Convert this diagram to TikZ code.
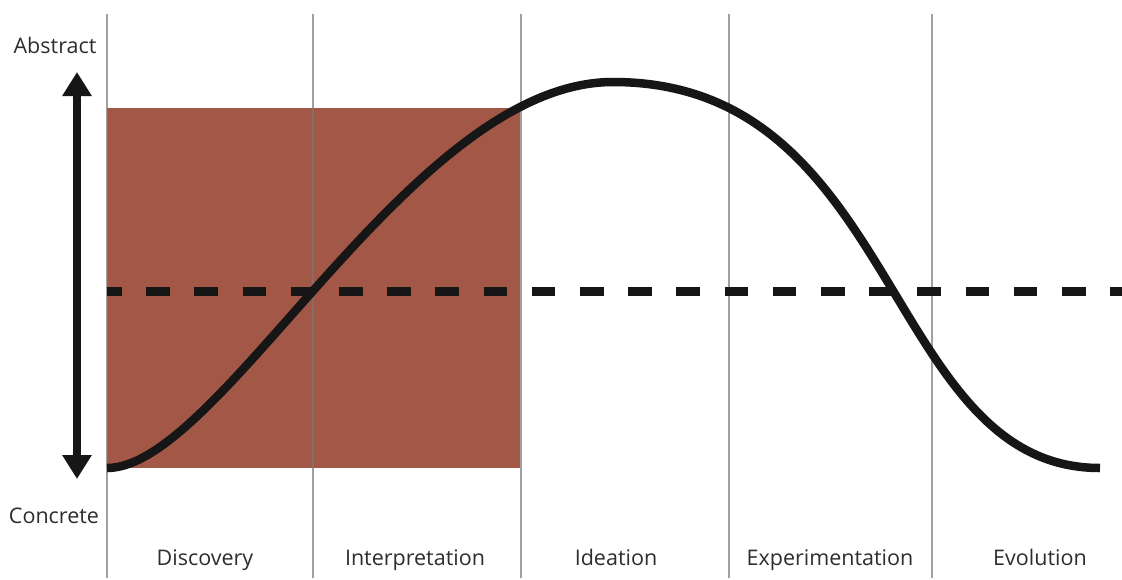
\documentclass[tikz,border=0pt]{standalone}
\usepackage{fontspec}
\setmainfont{Open Sans}
\usetikzlibrary{arrows.meta}
\definecolor{clay}{RGB}{163,88,71}
\definecolor{ink}{RGB}{22,22,22}
\definecolor{txt}{RGB}{45,45,45}
\definecolor{rule}{RGB}{120,120,120}
\begin{document}
\begin{tikzpicture}[x=1pt,y=-1pt,
  divider/.style={draw=rule,draw opacity=0.7,line width=1.5pt},
  phase/.style={font=\fontsize{21.5}{24}\selectfont,text=txt,anchor=base,inner sep=0pt},
  axislabel/.style={font=\fontsize{21.5}{24}\selectfont,text=txt,anchor=base,inner sep=0pt},
  wave/.style={draw=ink,line width=8.5pt,line cap=butt},
  midline/.style={draw=ink,line width=9pt,dash pattern=on 23.5pt off 24.7pt,dash phase=9pt},
  scale arrow/.style={draw=ink,line width=7.5pt,
    {Triangle[width=28pt,length=24pt]}-{Triangle[width=28pt,length=24pt]}}]
\useasboundingbox (0,0) rectangle (1122,579);
\fill[white] (0,0) rectangle (1122,579);

% shaded region over the first two phases
\fill[clay] (107,108) rectangle (520,468);

% phase dividers
\foreach \x/\n in {107/d0,313/d1,521/d2,729/d3,932/d4}{
  \coordinate (\n top) at (\x,14);
  \coordinate (\n bot) at (\x,578);
  \draw[divider] (\n top) -- (\n bot);
}

% neutral level
\coordinate (mid start) at (107,291);
\coordinate (mid end) at (1122,291);
\draw[midline] (mid start) -- (mid end);

% abstraction curve
\coordinate (low left) at (107,468);
\coordinate (peak) at (613,82);
\coordinate (low right) at (1100,468);
\draw[wave] (low left) .. controls (221.5,468) and (411,82) .. (peak)
  .. controls (901,82) and (884,468) .. (low right);

% vertical scale
\node[axislabel] (abstract) at (55,53) {Abstract};
\node[axislabel] (concrete) at (54,523) {Concrete};
\coordinate (arrow top) at (77,72);
\coordinate (arrow bot) at (77,479);
\draw[scale arrow] (arrow bot) -- (arrow top);

% phase names
\node[phase] (discovery) at (205,565) {Discovery};
\node[phase] (interpretation) at (415,565) {Interpretation};
\node[phase] (ideation) at (616,565) {Ideation};
\node[phase] (experimentation) at (830,565) {Experimentation};
\node[phase] (evolution) at (1040,565) {Evolution};
\end{tikzpicture}
\end{document}
